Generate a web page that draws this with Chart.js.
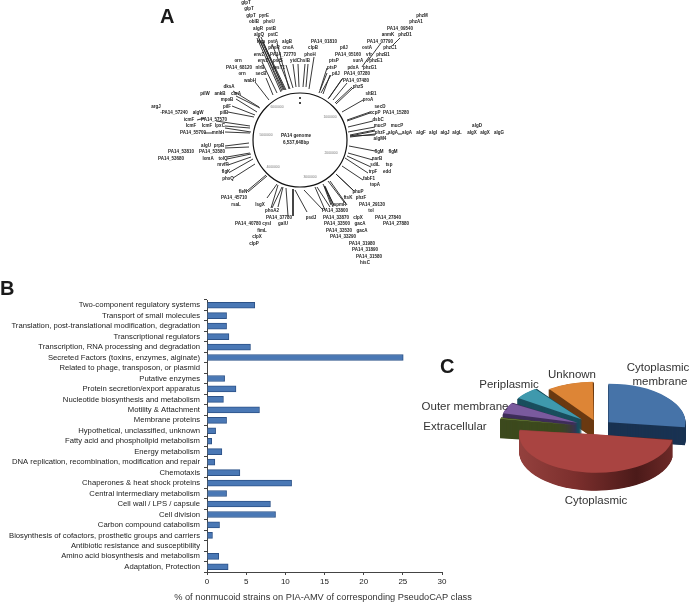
<!DOCTYPE html>
<html>
<head>
    <title>PA14 genome, PseudoCAP classes and localisation</title>
    <script src="https://cdnjs.cloudflare.com/ajax/libs/Chart.js/4.4.1/chart.umd.min.js"></script>
    <style>
        html, body { margin: 0; padding: 0; background: #fff; }
        #page { position: relative; width: 691px; height: 603px; overflow: hidden; }
        canvas { position: absolute; filter: blur(0.3px); }
        #mapCanvas { left: 0; top: 0; }
        #barCanvas { left: 0; top: 290px; }
        #pieCanvas { left: 400px; top: 355px; }
        .panel { position: absolute; font: bold 20px "Liberation Sans"; color: #1a1a1a; line-height: 20px; }
    </style>
</head>
<body>
<div id="page">
    <canvas id="mapCanvas" width="691" height="280"></canvas>
    <canvas id="barCanvas" width="480" height="313"></canvas>
    <canvas id="pieCanvas" width="291" height="170"></canvas>
    <div class="panel" style="left:160px;top:6px">A</div>
    <div class="panel" style="left:0px;top:278px">B</div>
    <div class="panel" style="left:440px;top:356px">C</div>
</div>
<script>

// panel A: genes (axis units are the picture's pixels)
const geneNames = ['glpT','glpT','glpT','pyrE','oblB','phoU','algR','pstB','algQ','pstC','rfaa','pstA','algB','PA14_01810','phoR','cnoA','clpB','envZ','PA14_72770','phoH','envZ','pstS','yidC','hslB','orn','PA14_68120','nlrB','tesT1','orn','secB','wabH','dksA','pilW','ankB','carA','mpoB','pilF','argJ','-PA14_57240','algW','pilB','icmF','PA14_57570','IcmF','IcmF','lpxC','PA14_55700','mnhH',
    'algU','prpB','PA14_53810','PA14_53580','PA14_53680','lomA','tolQ','mvfR','flgK','phoQ','fleN','PA14_45710','rsaL','lsgX','phoA2','PA14_37780','PA14_40780 cysI','galU','fimL','clpX','clpP','psdJ',
    'phzM','phzA1','PA14_09540','anmK','phzD1','PA14_07790','pilJ','ostA','phzC1','PA14_05160','vfr','phzB1','ptsP','surA','phzE1','ptsP','pdxA','phzG1','pilJ','PA14_07280','PA14_07480','phzS','sltB1','proA','secD','xcpP','PA14_15280','dsbC','mucP','mucP','algD',
    'phzF','algA','algA','algF','algI','algJ','algL','algX','algX','algG','algM4','flgM','flgM','narB','sdiL','tsp','trpF','edd','fabF1','topA','phuP','phzF','ftsK','PA14_29130','spmR','tol','PA14_33800','PA14_33870','clpX','PA14_27840','PA14_33500','gacA','PA14_27880','PA14_33530','gacA','PA14_33290','PA14_31980','PA14_31890','PA14_31580','hisC'];
const geneX = [246,249,251,264,254,269,258,271,259,273,261,273,287,324,274,288,313,259,283,310,263,278,295,305,238,239,260,279,242,261,250,229,205,220,236,227,227,156,174,198,224,189,214,191,207,220,193,218,
    206,219,181,212,171,208,223,223,226,228,243,234,236,260,272,279,253,283,262,257,254,311,
    422,416,400,388,405,380,344,367,390,348,369,383,334,358,376,332,353,370,336,357,356,358,371,368,380,375,396,378,380,397,477,
    380,393,407,421,433,445,457,472,485,499,380,379,393,377,375,389,373,387,369,375,358,361,348,372,340,371,335,336,358,388,337,360,396,339,362,343,362,365,369,365];
const geneY = [3,9,16,16,22,22,29,29,35,35,42,42,42,42,48,48,48,55,55,55,61,61,61,61,61,68,68,68,74,74,81,87,94,94,94,100,107,107,113,113,113,120,120,126,126,126,133,133,
    146,146,152,152,159,159,159,165,172,179,192,198,205,205,211,218,224,224,231,237,244,218,
    16,22,29,35,35,42,48,48,48,55,55,55,61,61,61,68,68,68,74,74,81,87,94,100,107,113,113,120,126,126,126,
    133,133,133,133,133,133,133,133,133,133,139,152,152,159,165,165,172,172,179,185,192,198,198,205,205,211,211,218,218,218,224,224,224,231,231,237,244,250,257,263];

// spokes between the genome ring and the gene labels
const spokeInX  = [269,273,277,282,283,284,285,289,290,293,296,299,303,306,309,319,323,260,259,257,255,254,250,250,251,250,249,249,250,251,251,253,255,266,267,277,278,282,283,286,293,295,304,315,317,324,325,323,328,330,336,337,342,345,347,348,349,350,350,350,350,348,348,347,347,342,335,336,333,329,328,321,320,393,367,362,300,300,281,286,325,386,398,204,197];
const spokeInY  = [100,95,93,91,90,90,90,89,89,88,87,87,87,87,89,93,94,108,107,112,115,117,126,128,132,133,143,147,153,154,157,159,164,175,176,184,185,187,187,188,189,190,190,187,187,186,187,184,181,181,174,175,166,158,156,153,146,136,137,135,136,132,127,121,120,112,103,104,100,98,99,93,90,45,62,67,97,102,92,90,186,134,134,133,120];
const spokeOutX = [255,266,262,258,260,261,262,277,272,286,293,298,305,308,314,327,330,236,233,236,232,228,216,225,225,225,225,225,227,227,228,230,233,247,248,267,271,272,278,288,293,307,323,325,330,331,333,334,344,347,353,354,363,368,371,373,375,375,375,375,375,375,373,370,370,363,352,353,347,343,342,331,327,400,381,369,300,300,257,263,334,389,402,212,205];
const spokeOutY = [82,78,62,36,41,37,42,43,44,65,64,64,64,64,57,73,75,96,91,99,106,112,121,126,128,132,146,148,157,159,165,172,178,191,192,198,208,208,207,216,216,212,210,210,207,205,207,205,202,205,190,191,180,173,167,160,151,135,134,130,131,127,121,113,112,100,87,88,83,78,79,75,68,38,43,57,99,104,38,42,206,134,134,133,118];

const ringTickLabels = ['6000000','1000000','5000000','4000000','3000000','2000000'];
const ringTickX = [277,330,266,273,310,331];
const ringTickY = [107,117,135,167,177,153];
const genomeCentre = [{ x: 300, y: 140 }];
const genomeTitle = ['PA14 genome', '6,537,648bp'];

// panel B
const pseudocapClasses = ['Two-component regulatory systems','Transport of small molecules','Translation, post-translational modification, degradation','Transcriptional regulators','Transcription, RNA processing and degradation','Secreted Factors (toxins, enzymes, alginate)','Related to phage, transposon, or plasmid','Putative enzymes','Protein secretion/export apparatus','Nucleotide biosynthesis and metabolism','Motility & Attachment','Membrane proteins','Hypothetical, unclassified, unknown','Fatty acid and phospholipid metabolism','Energy metabolism','DNA replication, recombination, modification and repair','Chemotaxis','Chaperones & heat shock proteins','Central intermediary metabolism','Cell wall / LPS / capsule','Cell division','Carbon compound catabolism','Biosynthesis of cofactors, prosthetic groups and carriers','Antibiotic resistance and susceptibility','Amino acid biosynthesis and metabolism','Adaptation, Protection'];
const nonmucoidPercent = [6.1,2.5,2.5,2.8,5.55,25.05,0,2.25,3.7,2.1,6.7,2.5,1.1,0.6,1.9,1.0,4.2,10.8,2.5,8.1,8.75,1.6,0.7,0,1.5,2.7];
const barAxisTitle = '% of nonmucoid strains on PIA-AMV of corresponding PseudoCAP class';

// panel C
const locations = ['Cytoplasmic membrane','Cytoplasmic','Extracellular','Outer membrane','Periplasmic','Unknown'];
const locationShare = [27,50,1.5,5.5,6,10];
const pieTopColors = ['#4673a8','#a94441','#8aa84a','#7a5a9e','#3f99ad','#dd8536'];
const pieWallColors = ['#1a3352','#7a2c2a','#3d4a1e','#3f2e5a','#1a4f5e','#6b3a12'];
const pieOffsets = [56,58,88,88,88,56];

const FONT = '"Liberation Sans"';

const geneLabelPlugin = {
    id: 'geneLabels',
    afterDatasetsDraw(chart) {
        const ctx = chart.ctx;
        const x = chart.scales.x;
        const y = chart.scales.y;
        ctx.save();
        ctx.textAlign = 'center';
        ctx.textBaseline = 'middle';
        ctx.fillStyle = '#222';
        ctx.font = 'bold 4.5px ' + FONT;
        geneNames.forEach((name, i) => {
            ctx.fillText(name, x.getPixelForValue(geneX[i]), y.getPixelForValue(geneY[i]));
        });
        ctx.fillStyle = '#777';
        ctx.font = '3.4px ' + FONT;
        ringTickLabels.forEach((name, i) => {
            ctx.fillText(name, x.getPixelForValue(ringTickX[i]), y.getPixelForValue(ringTickY[i]));
        });
        ctx.fillStyle = '#222';
        ctx.font = 'bold 4.6px ' + FONT;
        genomeTitle.forEach((line, i) => {
            ctx.fillText(line, x.getPixelForValue(296), y.getPixelForValue(136 + i * 6.5));
        });
        ctx.restore();
    }
};

function spokePoints() {
    const points = [];
    spokeInX.forEach((v, i) => {
        points.push({ x: v, y: spokeInY[i] });
        points.push({ x: spokeOutX[i], y: spokeOutY[i] });
        points.push({ x: NaN, y: NaN });
    });
    return points;
}

new Chart(document.getElementById('mapCanvas'), {
    type: 'scatter',
    data: {
        datasets: [{
            data: genomeCentre,
            pointRadius: 47,
            pointHoverRadius: 47,
            pointBackgroundColor: 'transparent',
            pointBorderColor: '#111',
            pointBorderWidth: 1.2,
        }, {
            data: spokePoints(),
            showLine: true,
            spanGaps: false,
            pointRadius: 0,
            borderColor: '#222',
            borderWidth: 0.9,
        }],
    },
    options: {
        responsive: false,
        animation: false,
        layout: { padding: 0, autoPadding: false },
        plugins: { legend: { display: false }, tooltip: { enabled: false } },
        scales: {
            x: { type: 'linear', display: false, min: 0, max: 691 },
            y: { type: 'linear', display: false, min: 0, max: 280, reverse: true },
        },
    },
    plugins: [geneLabelPlugin],
});

// the axis title is wider than the plot, chart.js would squeeze it
const barTitlePlugin = {
    id: 'barTitle',
    afterDraw(chart) {
        const ctx = chart.ctx;
        ctx.save();
        ctx.fillStyle = '#333';
        ctx.font = '9.25px ' + FONT;
        ctx.textAlign = 'center';
        ctx.textBaseline = 'middle';
        ctx.fillText(barAxisTitle, 323, 307);
        ctx.restore();
    }
};

new Chart(document.getElementById('barCanvas'), {
    type: 'bar',
    data: {
        labels: pseudocapClasses,
        datasets: [{
            data: nonmucoidPercent,
            backgroundColor: '#4a78b5',
            borderColor: '#2c5288',
            borderWidth: 1,
            barThickness: 6,
        }],
    },
    options: {
        indexAxis: 'y',
        responsive: false,
        animation: false,
        layout: { padding: { top: 10, right: 38, left: 0, bottom: 0 } },
        plugins: { legend: { display: false }, tooltip: { enabled: false } },
        scales: {
            x: {
                min: 0,
                max: 30,
                afterFit: (axis) => { axis.height = 31; },
                grid: { drawOnChartArea: false, color: '#444', tickLength: 3 },
                border: { color: '#444' },
                ticks: { stepSize: 5, color: '#222', padding: 2, maxRotation: 0, font: { family: FONT, size: 8 } },
            },
            y: {
                afterFit: (axis) => { axis.width = 207; },
                grid: { drawOnChartArea: false, color: '#444', tickLength: 3, offset: true },
                border: { color: '#444' },
                ticks: { autoSkip: false, color: '#222', padding: 4, font: { family: FONT, size: 7.7 } },
            },
        },
    },
    plugins: [barTitlePlugin],
});

const PIE_RADIUS = 77;
const PIE_SQUASH = 0.5;
const PIE_DEPTH = 36;

function wedgePath(ctx, arc, dy) {
    const mid = (arc.startAngle + arc.endAngle) / 2;
    const shift = (arc.options.offset || 0) / 4;
    const cx = arc.x + Math.cos(mid) * shift;
    const cy = arc.y + Math.sin(mid) * shift + dy;
    ctx.beginPath();
    ctx.moveTo(cx, cy);
    ctx.arc(cx, cy, PIE_RADIUS, arc.startAngle, arc.endAngle);
    ctx.closePath();
}

const pie3dPlugin = {
    id: 'pie3d',
    beforeDatasetsDraw(chart) {
        const ctx = chart.ctx;
        const arcs = chart.getDatasetMeta(0).data;
        // chart.js grows an exploded arc by offset * fix when it draws it, undo that
        arcs.forEach((arc) => {
            const fix = 1 - Math.sin(Math.min(Math.PI, arc.circumference));
            arc.outerRadius = PIE_RADIUS - (arc.options.offset || 0) / 4 * fix;
        });
        ctx.save();
        ctx.translate(arcs[0].x, arcs[0].y);
        ctx.scale(1, PIE_SQUASH);
        ctx.translate(-arcs[0].x, -arcs[0].y);
        // walls first, big front slice last
        [0, 5, 4, 3, 2, 1].forEach((i) => {
            const arc = arcs[i];
            let fill = pieWallColors[i];
            if (i === 1) {
                const g = ctx.createLinearGradient(arc.x - PIE_RADIUS, 0, arc.x + PIE_RADIUS, 0);
                g.addColorStop(0, '#93403d');
                g.addColorStop(0.35, '#7c2f2d');
                g.addColorStop(0.75, '#4b1a19');
                g.addColorStop(1, '#6f2a28');
                fill = g;
            }
            ctx.fillStyle = fill;
            for (let d = PIE_DEPTH; d > 0; d--) {
                wedgePath(ctx, arc, d);
                ctx.fill();
            }
        });
    },
    afterDatasetsDraw(chart) {
        const ctx = chart.ctx;
        ctx.restore();
        ctx.save();
        ctx.fillStyle = '#333';
        ctx.font = '11.5px ' + FONT;
        ctx.textAlign = 'center';
        ctx.textBaseline = 'middle';
        ctx.fillText('Cytoplasmic', 258, 13);
        ctx.fillText('membrane', 260, 27);
        ctx.fillText(locations[5], 172, 20);
        ctx.fillText(locations[4], 109, 30);
        ctx.fillText(locations[3], 65, 52);
        ctx.fillText(locations[2], 55, 72);
        ctx.fillText(locations[1], 196, 146);
        ctx.restore();
    }
};

new Chart(document.getElementById('pieCanvas'), {
    type: 'pie',
    data: {
        labels: locations,
        datasets: [{
            data: locationShare,
            backgroundColor: pieTopColors,
            borderWidth: 0,
            offset: pieOffsets,
            radius: PIE_RADIUS,
            clip: false,
        }],
    },
    options: {
        responsive: false,
        animation: false,
        layout: { padding: { left: 105, right: 0, top: 0, bottom: 26 } },
        plugins: { legend: { display: false }, tooltip: { enabled: false } },
    },
    plugins: [pie3dPlugin],
});

</script>
</body>
</html>
